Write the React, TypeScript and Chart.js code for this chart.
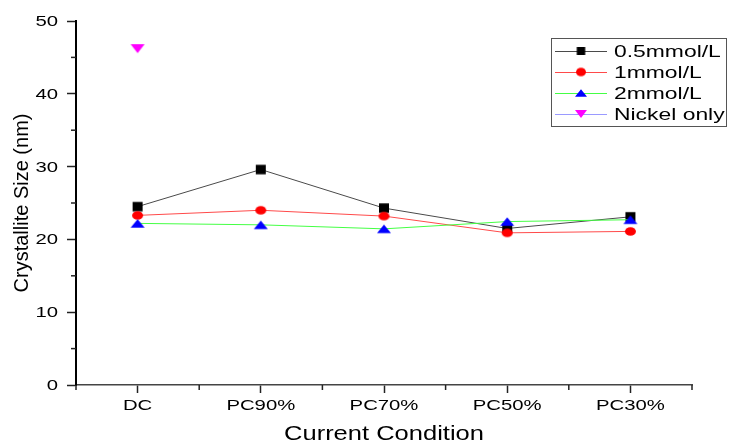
import React, { useEffect, useRef } from 'react';
import { Chart, registerables } from 'chart.js';

Chart.register(...registerables);

// ---- data ----
const categories = ['DC', 'PC90%', 'PC70%', 'PC50%', 'PC30%'];
const series05 = [24.5, 29.6, 24.3, 21.5, 23.1];
const series1 = [23.3, 24.0, 23.2, 20.9, 21.1];
const series2 = [22.2, 22.0, 21.45, 22.45, 22.7];
const seriesNickel = [46.2, null, null, null, null];
const seriesNames = ['0.5mmol/L', '1mmol/L', '2mmol/L', 'Nickel only'];
const yMin = 0;
const yMax = 50;
const yStep = 10;
const yMinorStep = 5;
const xTitle = 'Current Condition';
const yTitle = 'Crystallite Size (nm)';

const FONT = '"Liberation Sans", Arial, sans-serif';

function makeMarker(shape: string, w: number, h: number, fill: string) {
  const c = document.createElement('canvas');
  c.width = Math.ceil(w) + 2;
  c.height = Math.ceil(h) + 2;
  const g = c.getContext('2d')!;
  const cx = c.width / 2;
  const cy = c.height / 2;
  g.fillStyle = fill;
  g.beginPath();
  if (shape === 'square') {
    g.rect(cx - w / 2, cy - h / 2, w, h);
  } else if (shape === 'circle') {
    g.ellipse(cx, cy, w / 2, h / 2, 0, 0, Math.PI * 2);
  } else if (shape === 'up') {
    g.moveTo(cx, cy - h / 2);
    g.lineTo(cx + w / 2, cy + h / 2);
    g.lineTo(cx - w / 2, cy + h / 2);
    g.closePath();
  } else {
    g.moveTo(cx - w / 2, cy - h / 2);
    g.lineTo(cx + w / 2, cy - h / 2);
    g.lineTo(cx, cy + h / 2);
    g.closePath();
  }
  g.fill();
  return c;
}

function drawText(ctx: CanvasRenderingContext2D, text: string, x: number, y: number, sx: number, align: CanvasTextAlign) {
  ctx.save();
  ctx.translate(x, y);
  ctx.scale(sx, 1);
  ctx.textAlign = align;
  ctx.textBaseline = 'alphabetic';
  ctx.fillText(text, 0, 0);
  ctx.restore();
}

export default function App() {
  const ref = useRef<HTMLCanvasElement | null>(null);

  useEffect(() => {
    document.body.style.margin = '0';
    const canvas = ref.current!;

    const markers = [
      makeMarker('square', 10, 9.5, '#000000'),
      makeMarker('circle', 11, 8.5, '#ff0000'),
      makeMarker('up', 14, 8.5, '#0000ff'),
      makeMarker('down', 14, 9, '#ff00ff'),
    ];
    const legendMarkers = [
      makeMarker('square', 8.5, 8, '#000000'),
      makeMarker('circle', 10, 8.5, '#ff0000'),
      makeMarker('up', 12, 7.5, '#0000ff'),
      makeMarker('down', 12, 8, '#ff00ff'),
    ];
    const lineColors = ['#4a4a4a', '#ff4a4a', '#44ff44', '#9a9aff'];
    const values = [series05, series1, series2, seriesNickel];

    const datasets = values.map((vals, i) => ({
      label: seriesNames[i],
      data: vals,
      borderColor: lineColors[i],
      backgroundColor: lineColors[i],
      borderWidth: 1,
      pointStyle: markers[i] as any,
      pointRadius: 5,
      pointHoverRadius: 5,
      order: 4 - i,
      clip: false as any,
    }));

    const decor = {
      id: 'decor',
      afterDraw(chart: any) {
        const ctx: CanvasRenderingContext2D = chart.ctx;
        const xs = chart.scales.x;
        const ys = chart.scales.y;
        const area = chart.chartArea;
        ctx.save();

        // minor ticks
        ctx.strokeStyle = '#222';
        ctx.lineWidth = 1.5;
        for (let v = yMin + yMinorStep; v < yMax; v += yStep) {
          const py = ys.getPixelForValue(v);
          ctx.beginPath();
          ctx.moveTo(area.left - 5, py);
          ctx.lineTo(area.left, py);
          ctx.stroke();
        }
        for (let i = 0; i <= categories.length; i++) {
          const px = xs.getPixelForValue(i - 0.5);
          ctx.beginPath();
          ctx.moveTo(px, area.bottom);
          ctx.lineTo(px, area.bottom + 5);
          ctx.stroke();
        }

        // tick labels
        ctx.fillStyle = '#000';
        ctx.font = '14px ' + FONT;
        xs.ticks.forEach((t: any, i: number) => {
          drawText(ctx, String(t.label), xs.getPixelForTick(i), area.bottom + 25, 1.45, 'center');
        });
        ys.ticks.forEach((t: any, i: number) => {
          drawText(ctx, String(t.label), area.left - 18, ys.getPixelForTick(i) + 5, 1.45, 'right');
        });

        // axis titles
        ctx.font = '21px ' + FONT;
        drawText(ctx, xTitle, (area.left + area.right) / 2, 440, 1.215, 'center');
        ctx.save();
        ctx.translate(28, 203);
        ctx.rotate(-Math.PI / 2);
        ctx.font = '20px ' + FONT;
        ctx.textAlign = 'center';
        ctx.textBaseline = 'alphabetic';
        ctx.fillText(yTitle, 0, 0);
        ctx.restore();

        // legend
        ctx.fillStyle = '#ffffff';
        ctx.fillRect(551, 38, 176, 88);
        ctx.strokeStyle = '#555';
        ctx.lineWidth = 1;
        ctx.strokeRect(551.5, 38.5, 175, 88);
        const rows = [51, 72, 93, 114];
        chart.data.datasets.forEach((ds: any, i: number) => {
          const ry = rows[i];
          ctx.strokeStyle = ds.borderColor;
          ctx.lineWidth = 1;
          ctx.beginPath();
          ctx.moveTo(555, ry + 0.5);
          ctx.lineTo(607, ry + 0.5);
          ctx.stroke();
          const m = legendMarkers[i];
          ctx.drawImage(m, 581 - m.width / 2, ry - m.height / 2);
          ctx.fillStyle = '#000';
          ctx.font = '16px ' + FONT;
          drawText(ctx, ds.label, 614, ry + 6, 1.43, 'left');
        });

        ctx.restore();
      },
    };

    const chart = new Chart(canvas, {
      type: 'line',
      data: { labels: categories, datasets },
      options: {
        responsive: false,
        devicePixelRatio: 1,
        animation: false,
        layout: { padding: { top: 21, right: 37, left: 0, bottom: 0 } },
        plugins: { legend: { display: false }, tooltip: { enabled: false }, title: { display: false } },
        scales: {
          x: {
            type: 'category',
            offset: true,
            grid: {
              display: true,
              drawOnChartArea: false,
              drawTicks: true,
              tickLength: 8,
              tickColor: '#222',
              tickWidth: 1.5,
            },
            border: { display: true, color: '#444', width: 1.5 },
            ticks: { display: false },
            afterFit: (s: any) => {
              s.height = 56;
            },
          },
          y: {
            min: yMin,
            max: yMax,
            grid: {
              display: true,
              drawOnChartArea: false,
              drawTicks: true,
              tickLength: 9,
              tickColor: '#222',
              tickWidth: 1.5,
            },
            border: { display: true, color: '#000', width: 2 },
            ticks: { display: false, stepSize: yStep },
            afterFit: (s: any) => {
              s.width = 76;
            },
          },
        },
      },
      plugins: [decor],
    } as any);

    return () => chart.destroy();
  }, []);

  return <canvas ref={ref} width={729} height={441} style={{ display: 'block', width: 729, height: 441 }} />;
}
